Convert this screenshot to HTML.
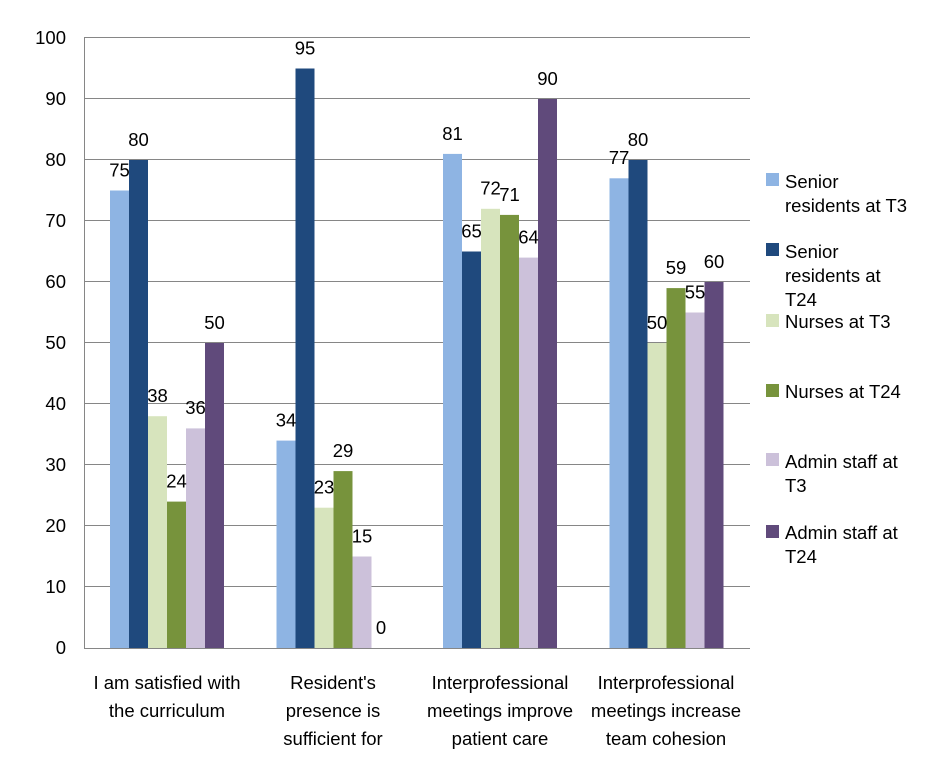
<!DOCTYPE html>
<html><head><meta charset="utf-8"><style>
html,body{margin:0;padding:0;background:#fff}
svg text{font-family:"Liberation Sans",sans-serif;font-size:18.5px;fill:#000}
</style></head><body>
<svg width="930" height="770" xmlns="http://www.w3.org/2000/svg">
<g stroke="#868686" stroke-width="1">
<line x1="84" y1="37.5" x2="750" y2="37.5"/>
<line x1="84" y1="98.5" x2="750" y2="98.5"/>
<line x1="84" y1="159.5" x2="750" y2="159.5"/>
<line x1="84" y1="220.5" x2="750" y2="220.5"/>
<line x1="84" y1="281.5" x2="750" y2="281.5"/>
<line x1="84" y1="342.5" x2="750" y2="342.5"/>
<line x1="84" y1="403.5" x2="750" y2="403.5"/>
<line x1="84" y1="464.5" x2="750" y2="464.5"/>
<line x1="84" y1="525.5" x2="750" y2="525.5"/>
<line x1="84" y1="586.5" x2="750" y2="586.5"/>
</g>
<g text-anchor="end">
<text x="66" y="44">100</text><text x="66" y="105">90</text><text x="66" y="166">80</text>
<text x="66" y="227">70</text><text x="66" y="288">60</text><text x="66" y="349">50</text>
<text x="66" y="410">40</text><text x="66" y="471">30</text><text x="66" y="532">20</text>
<text x="66" y="593">10</text><text x="66" y="654">0</text>
</g>
<g>
<rect x="110" y="190.5" width="19" height="457.5" fill="#8EB4E3"/>
<rect x="129" y="160" width="19" height="488" fill="#1F497D"/>
<rect x="148" y="416.2" width="19" height="231.8" fill="#D7E4BD"/>
<rect x="167" y="501.6" width="19" height="146.4" fill="#77933C"/>
<rect x="186" y="428.4" width="19" height="219.6" fill="#CCC1DA"/>
<rect x="205" y="343" width="19" height="305" fill="#604A7B"/>

<rect x="276.5" y="440.6" width="19" height="207.4" fill="#8EB4E3"/>
<rect x="295.5" y="68.5" width="19" height="579.5" fill="#1F497D"/>
<rect x="314.5" y="507.7" width="19" height="140.3" fill="#D7E4BD"/>
<rect x="333.5" y="471.1" width="19" height="176.9" fill="#77933C"/>
<rect x="352.5" y="556.5" width="19" height="91.5" fill="#CCC1DA"/>

<rect x="443" y="153.9" width="19" height="494.1" fill="#8EB4E3"/>
<rect x="462" y="251.5" width="19" height="396.5" fill="#1F497D"/>
<rect x="481" y="208.8" width="19" height="439.2" fill="#D7E4BD"/>
<rect x="500" y="214.9" width="19" height="433.1" fill="#77933C"/>
<rect x="519" y="257.6" width="19" height="390.4" fill="#CCC1DA"/>
<rect x="538" y="99" width="19" height="549" fill="#604A7B"/>

<rect x="609.5" y="178.3" width="19" height="469.7" fill="#8EB4E3"/>
<rect x="628.5" y="160" width="19" height="488" fill="#1F497D"/>
<rect x="647.5" y="343" width="19" height="305" fill="#D7E4BD"/>
<rect x="666.5" y="288.1" width="19" height="359.9" fill="#77933C"/>
<rect x="685.5" y="312.5" width="19" height="335.5" fill="#CCC1DA"/>
<rect x="704.5" y="282" width="19" height="366" fill="#604A7B"/>
</g>
<g stroke="#868686" stroke-width="1">
<line x1="84.5" y1="37" x2="84.5" y2="648.5"/>
<line x1="84" y1="648.5" x2="750" y2="648.5"/>
</g>
<g text-anchor="middle">
<text x="119.5" y="176.5">75</text><text x="138.5" y="146">80</text><text x="157.5" y="402">38</text>
<text x="176.5" y="487.5">24</text><text x="195.5" y="414">36</text><text x="214.5" y="329">50</text>

<text x="286" y="426.5">34</text><text x="305" y="54.5">95</text><text x="324" y="493.5">23</text>
<text x="343" y="457">29</text><text x="362" y="542.5">15</text><text x="381" y="634">0</text>

<text x="452.5" y="140">81</text><text x="471.5" y="237.5">65</text><text x="490.5" y="194.5">72</text>
<text x="509.5" y="201">71</text><text x="528.5" y="243.5">64</text><text x="547.5" y="85">90</text>

<text x="619" y="164">77</text><text x="638" y="146">80</text><text x="657" y="329">50</text>
<text x="676" y="274">59</text><text x="695" y="298.5">55</text><text x="714" y="268">60</text>

<text x="167" y="689">I am satisfied with</text><text x="167" y="717">the curriculum</text>
<text x="333" y="689">Resident's</text><text x="333" y="717">presence is</text><text x="333" y="745">sufficient for</text>
<text x="500" y="689">Interprofessional</text><text x="500" y="717">meetings improve</text><text x="500" y="745">patient care</text>
<text x="666" y="689">Interprofessional</text><text x="666" y="717">meetings increase</text><text x="666" y="745">team cohesion</text>
</g>
<rect x="766" y="173" width="13" height="13" fill="#8EB4E3"/>
<text x="785" y="188">Senior</text><text x="785" y="212">residents at T3</text>
<rect x="766" y="243" width="13" height="13" fill="#1F497D"/>
<text x="785" y="258">Senior</text><text x="785" y="282">residents at</text><text x="785" y="306">T24</text>
<rect x="766" y="314" width="13" height="13" fill="#D7E4BD"/>
<text x="785" y="328">Nurses at T3</text>
<rect x="766" y="384" width="13" height="13" fill="#77933C"/>
<text x="785" y="398">Nurses at T24</text>
<rect x="766" y="453" width="13" height="13" fill="#CCC1DA"/>
<text x="785" y="468">Admin staff at</text><text x="785" y="492">T3</text>
<rect x="766" y="525" width="13" height="13" fill="#604A7B"/>
<text x="785" y="539">Admin staff at</text><text x="785" y="563">T24</text>
</svg>
</body></html>
